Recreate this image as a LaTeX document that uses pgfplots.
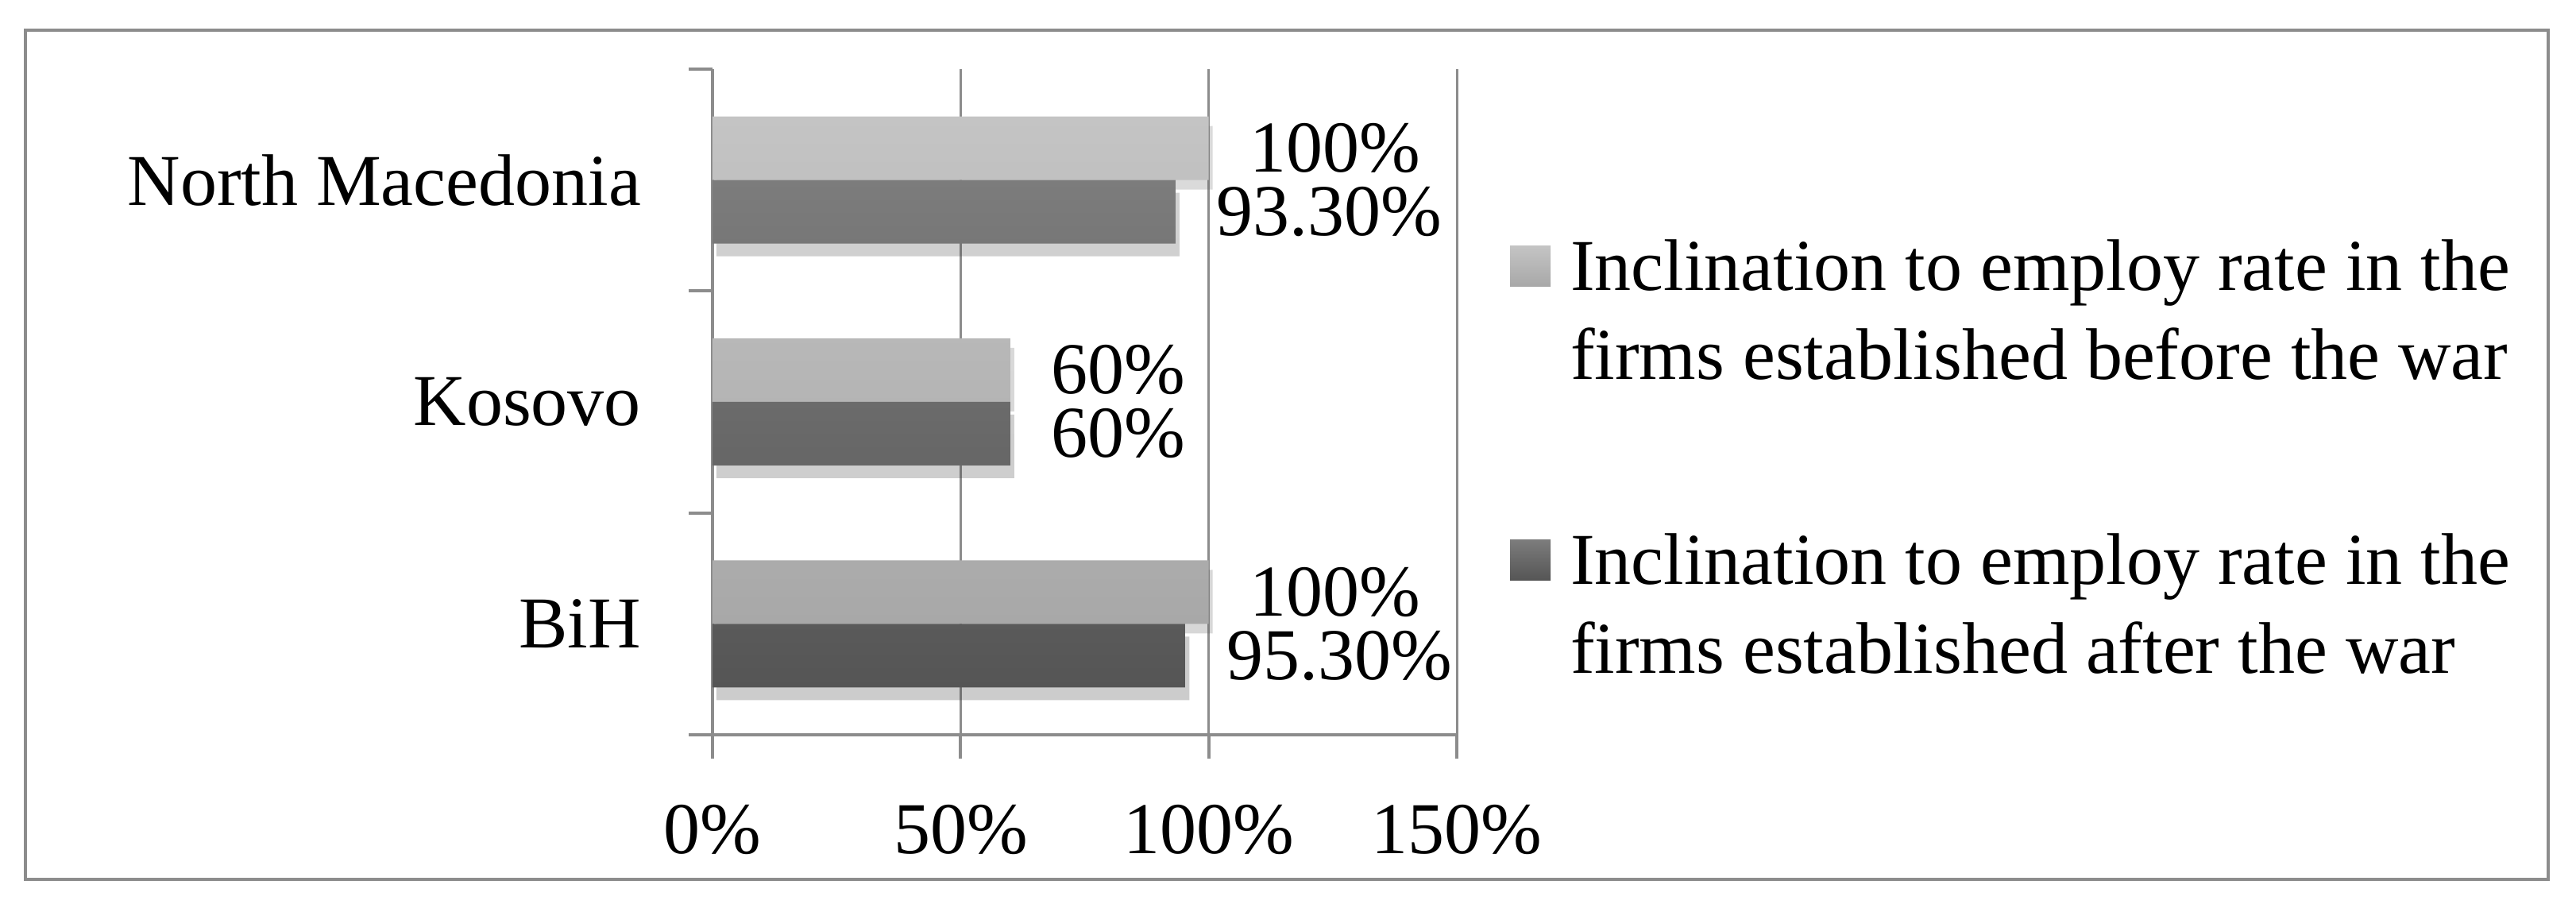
\documentclass[border=0pt]{standalone}
\usepackage{fontspec}
\setmainfont{Liberation Serif}
\usepackage{pgfplots}
\usetikzlibrary{shadows}
\pgfplotsset{compat=1.18}
\makeatletter
\tikzset{no preactions/.code={\let\tikz@preactions\pgfutil@empty}}
\makeatother
\definecolor{axgray}{HTML}{8C8C8C}
\definecolor{lighttop}{HTML}{C4C4C4}
\definecolor{lightbot}{HTML}{A8A8A8}
\definecolor{darktop}{HTML}{7C7C7C}
\definecolor{darkbot}{HTML}{555555}
\begin{document}
\begin{tikzpicture}[font=\fontsize{9.2bp}{11.2bp}\selectfont]
\path[use as bounding box] (-89.7bp,-21.3bp) rectangle (234.6bp,92.5bp);
\draw[axgray, line width=0.45bp] (-86.5bp,-18.2bp) rectangle (231.1bp,88.7bp);
\begin{axis}[
  at={(0,0)}, anchor=south west,
  scale only axis, width=93.7bp, height=83.8bp,
  xmin=0, xmax=150, ymin=0.5, ymax=3.5,
  axis x line*=bottom, axis y line*=left,
  axis line style={axgray, line width=0.4bp},
  xtick={0,50,100,150}, xticklabels={0\%,50\%,100\%,150\%},
  xmajorgrids, grid style={axgray, line width=0.3bp},
  ytick={0.5,1.5,2.5,3.5}, yticklabels={},
  extra y ticks={1,2,3}, extra y tick labels={BiH,Kosovo,North Macedonia},
  extra y tick style={major tick length=0pt, ymajorgrids=false},
  tick align=outside, major tick length=3bp,
  tick style={axgray, line width=0.4bp},
  xticklabel style={inner sep=0pt, yshift=-5.6bp},
  yticklabel style={inner sep=0pt, xshift=-8.8bp},
  legend cell align=left,
  legend style={draw=none, fill=none, inner sep=0pt, at={(1.0694,0.764)}, anchor=north west,
    row sep=27.7bp, column sep=2.5bp, nodes={inner sep=0pt}},
  point meta=explicit symbolic,
  nodes near coords,
  every node near coord/.append style={anchor=west, inner sep=0pt, xshift=5bp, black},
]
\addplot[xbar, bar width=8bp, bar shift=4bp, draw=none, top color=lighttop, bottom color=lightbot,
  drop shadow={shadow xshift=0.5bp, shadow yshift=-1.2bp, opacity=0.13, fill=black},
  legend image code/.code={\fill[no preactions, top color=lighttop, bottom color=lightbot] (0bp,-2.7bp) rectangle (5.1bp,2.4bp);},
  every node near coord/.append style={yshift=4bp}]
  coordinates {(100,1) [100\%] (60,2) [60\%] (100,3) [100\%]};
\addlegendentry{\begin{tabular}[t]{@{}l@{}}Inclination to employ rate in the\\firms established before the war\end{tabular}}
\addplot[xbar, bar width=8bp, bar shift=-4bp, draw=none, top color=darktop, bottom color=darkbot,
  drop shadow={shadow xshift=0.5bp, shadow yshift=-1.6bp, opacity=0.13, fill=black},
  legend image code/.code={\fill[no preactions, top color=darktop, bottom color=darkbot] (0bp,-2.7bp) rectangle (5.1bp,2.4bp);},
  every node near coord/.append style={yshift=-4bp}]
  coordinates {(95.3,1) [95.30\%] (60,2) [60\%] (93.3,3) [93.30\%]};
\addlegendentry{\begin{tabular}[t]{@{}l@{}}Inclination to employ rate in the\\firms established after the war\end{tabular}}
\end{axis}
\end{tikzpicture}
\end{document}
